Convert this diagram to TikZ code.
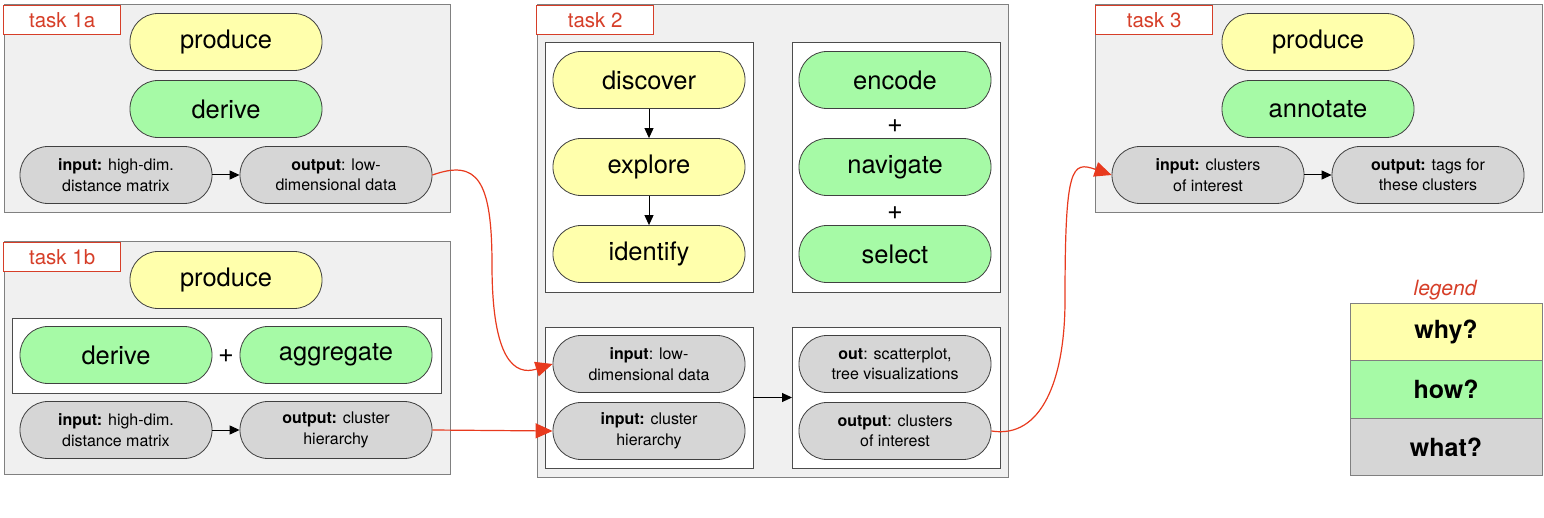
\documentclass[tikz,border=0pt]{standalone}
\usepackage{fontspec}
\setmainfont{TeX Gyre Heros}
\usetikzlibrary{positioning, arrows.meta}

\definecolor{whyc}{RGB}{255,255,172}
\definecolor{howc}{RGB}{166,250,166}
\definecolor{whatc}{RGB}{214,214,214}
\definecolor{boxc}{RGB}{240,240,240}
\definecolor{labred}{RGB}{214,62,40}
\definecolor{linkred}{RGB}{232,58,30}

\begin{document}
\begin{tikzpicture}[x=1pt, y=-1pt,
    pill/.style={draw=black!75, line width=0.8pt, rounded corners=28pt, minimum width=192pt, minimum height=57pt, align=center, inner sep=2pt},
    why/.style={pill, fill=whyc, font=\fontsize{25.5}{30}\selectfont},
    how/.style={pill, fill=howc, font=\fontsize{25.5}{30}\selectfont},
    what/.style={pill, fill=whatc, font=\fontsize{16}{20.5}\selectfont},
    taskbox/.style={draw=black!50, fill=boxc, line width=1pt},
    innerbox/.style={draw=black!70, fill=white, line width=0.8pt},
    tasklabel/.style={draw=labred, fill=white, line width=1.3pt, text=labred, anchor=north west, minimum width=117pt, minimum height=29pt, font=\fontsize{20.5}{24}\selectfont},
    plus/.style={font=\fontsize{27}{30}\selectfont, inner sep=1pt},
    flow/.style={-{Triangle[length=10pt,width=9pt]}, line width=1pt},
    link/.style={-{Triangle[length=17pt,width=15pt]}, draw=linkred, line width=1.2pt},
    legbox/.style={draw=black!50, line width=0.8pt, minimum width=192pt, minimum height=57.5pt, font=\fontsize{25}{30}\selectfont\bfseries}]
    \useasboundingbox (0,0) rectangle (1544,518);

    % Task 1a
    \draw[taskbox] (4,5) rectangle (450,213);
    \node[tasklabel] (L_1A) at (3,5) {task 1a};
    \node[why]  (P_1A) at (226,42)  {produce};
    \node[how]  (D_1A) at (226,109) {derive};
    \node[what] (I_1A) at (116,175) {\textbf{input:} high-dim.\\distance matrix};
    \node[what] (O_1A) at (336,175) {\textbf{output}: low-\\dimensional data};
    \draw[flow] (I_1A) -- (O_1A);

    % Task 1b
    \draw[taskbox] (4,242) rectangle (450,474);
    \node[tasklabel] (L_1B) at (3,242) {task 1b};
    \node[why]  (P_1B) at (226,280) {produce};
    \draw[innerbox] (12,318) rectangle (441,393);
    \node[how]  (D_1B) at (116,355) {derive};
    \node[how]  (A_1B) at (336,355) {aggregate};
    \node[plus] (S_1B) at (226,356) {+};
    \node[what] (I_1B) at (116,430) {\textbf{input:} high-dim.\\distance matrix};
    \node[what] (O_1B) at (336,430) {\textbf{output:} cluster\\hierarchy};
    \draw[flow] (I_1B) -- (O_1B);

    % Task 2
    \draw[taskbox] (537,5) rectangle (1008,477);
    \node[tasklabel] (L_2) at (536,5) {task 2};
    \draw[innerbox] (545,42) rectangle (753,292);
    \draw[innerbox] (792,42) rectangle (1000,292);
    \node[why] (DC_2) at (649,80)  {discover};
    \node[why] (EX_2) at (649,167) {explore};
    \node[why] (ID_2) at (649,254) {identify};
    \draw[flow] (DC_2) -- (EX_2); \draw[flow] (EX_2) -- (ID_2);
    \node[how] (EN_2) at (895,80)  {encode};
    \node[how] (NV_2) at (895,167) {navigate};
    \node[how] (SE_2) at (895,254) {select};
    \node[plus] (S1_2) at (895,126) {+};
    \node[plus] (S2_2) at (895,213) {+};

    \draw[innerbox] (545,327) rectangle (753,468);
    \draw[innerbox] (792,327) rectangle (1000,468);
    \coordinate (IN_2) at (753,397.5);
    \coordinate (OUT_2) at (792,397.5);
    \node[what] (ILD_2) at (649,364) {\textbf{input}: low-\\dimensional data};
    \node[what] (ICH_2) at (649,431) {\textbf{input:} cluster\\hierarchy};
    \node[what] (OSP_2) at (895,364) {\textbf{out}: scatterplot,\\tree visualizations};
    \node[what] (OCI_2) at (895,431) {\textbf{output}: clusters\\of interest};
    \draw[flow] (IN_2) -- (OUT_2);

    % Task 3
    \draw[taskbox] (1095,5) rectangle (1542,213);
    \node[tasklabel] (L_3) at (1095,5) {task 3};
    \node[why]  (P_3) at (1318,42)  {produce};
    \node[how]  (A_3) at (1318,109) {annotate};
    \node[what] (I_3) at (1208,175) {\textbf{input:} clusters\\of interest};
    \node[what] (O_3) at (1428,175) {\textbf{output:} tags for\\these clusters};
    \draw[flow] (I_3) -- (O_3);

    % Links between tasks
    \coordinate (B_1) at (492,265);
    \coordinate (B_2) at (1065,300);
    \draw[link] (O_1A.east) .. controls +(45,-16) and +(0,-85) .. (B_1)
        .. controls +(0,95) and +(-38,12) .. (ILD_2.west);
    \draw[link] (O_1B.east) -- (ICH_2.west);
    \draw[link] (OCI_2.east) .. controls +(50,8) and +(0,80) .. (B_2)
        .. controls +(0,-135) and +(-40,-14) .. (I_3.west);

    % Legend
    \node[text=labred, font=\fontsize{21}{24}\selectfont\itshape] (LEG) at (1445,290) {legend};
    \node[legbox, fill=whyc]  (WHY)  at (1446,332)   {why?};
    \node[legbox, fill=howc]  (HOW)  at (1446,389.5) {how?};
    \node[legbox, fill=whatc] (WHAT) at (1446,447)   {what?};
\end{tikzpicture}
\end{document}
